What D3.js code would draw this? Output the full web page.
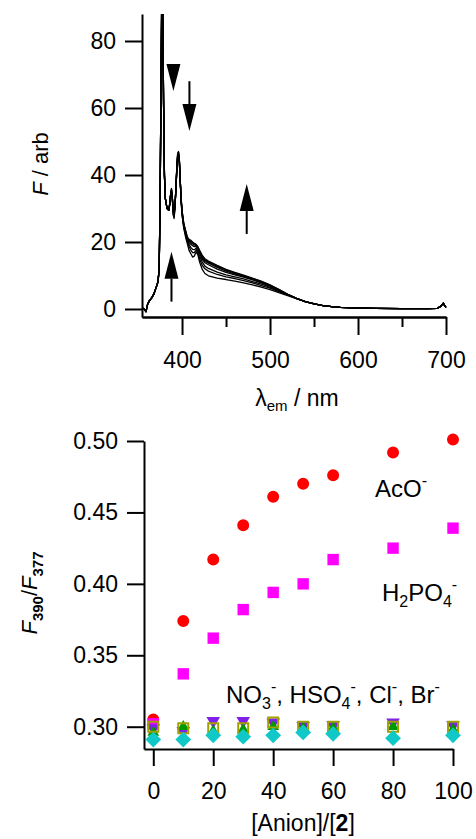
<!DOCTYPE html>
<html>
<head>
<meta charset="utf-8">
<script src="https://cdn.jsdelivr.net/npm/d3@7"></script>
<style>
  body { margin: 0; background: #fff; }
  svg { display: block; }
  text { font-family: "Liberation Sans", Arial, sans-serif; fill: #000; }
</style>
</head>
<body>
<div id="chart"></div>
<script>
// ---- emission spectra (top panel) ----
var waveNm = [355, 357, 359, 361, 363, 366, 368, 370, 372, 373, 374, 375, 376, 377, 378, 379, 380, 381, 383, 385,
    386, 387, 388, 389, 390, 391, 392, 393, 394, 395, 396, 397, 398, 399, 400, 402, 404, 406, 408, 410,
    412, 414, 416, 418, 420, 423, 426, 430, 440, 450, 460, 470, 480, 490, 500, 510, 520, 530, 540, 550,
    560, 570, 580, 600, 620, 650, 680, 690, 694, 697, 699, 700];

// shared rising edge + main peak (355-385 nm) and flat tail (560-700 nm)
var specHead = [0.3, 0.0, -0.8, 1.5, 2.5, 3.5, 4.5, 6.0, 7.5, 9.0, 12, 30, 62, 95, 92, 62, 40, 33, 30, 29.5];
var specTail = [1.0, 0.7, 0.5, 0.3, 0.2, 0.1, 0.1, 0.2, 0.8, 1.7, 0.8, 0.5];

// 386-550 nm part, one array per titration step
var spec0 = [31, 34, 36, 33, 28, 27, 30, 36, 42, 46.5, 47, 44.5, 38, 32, 28, 24, 21.5, 19.5, 17.5, 16.5,
    15.5, 15.8, 17, 16.2, 14, 11.8, 10.6, 9.9, 9.2, 8.8, 8.3, 7.8, 7.2, 6.5, 5.8, 4.9, 4.0, 3.1, 2.2, 1.5];
var spec1 = [31.2, 34, 35.8, 33, 28.3, 27.5, 30.5, 35.8, 41.8, 46.2, 46.8, 44.3, 38, 32.3, 28.3, 24.5, 22.2, 20.2, 18.6, 17.6,
    16.8, 16.8, 17.6, 16.8, 15, 13, 12, 11.3, 10.3, 9.6, 9.1, 8.5, 7.8, 7.0, 6.2, 5.2, 4.2, 3.1, 2.2, 1.5];
var spec2 = [31.3, 34, 35.6, 33, 28.6, 28, 30.7, 35.7, 41.6, 46, 46.6, 44.1, 38, 32.5, 28.6, 24.8, 22.6, 20.6, 19.2, 18.4,
    17.8, 17.7, 18.1, 17.3, 15.8, 14, 12.8, 12.1, 11.0, 10.2, 9.6, 9.0, 8.2, 7.4, 6.5, 5.4, 4.3, 3.2, 2.2, 1.5];
var spec3 = [31.4, 34, 35.4, 33, 28.9, 28.4, 30.8, 35.6, 41.4, 45.7, 46.3, 43.9, 38, 32.7, 28.9, 25.0, 22.9, 20.9, 19.8, 19.3,
    18.9, 18.6, 18.7, 17.9, 16.6, 14.8, 13.8, 13.2, 11.9, 10.9, 10.2, 9.5, 8.7, 7.8, 6.8, 5.6, 4.4, 3.2, 2.2, 1.5];
var spec4 = [31.4, 34, 35.3, 33, 29.1, 28.6, 30.9, 35.6, 41.3, 45.5, 46.1, 43.8, 38, 32.8, 29.1, 25.2, 23.1, 21.1, 20.2, 19.8,
    19.4, 19.1, 19.0, 18.2, 17.0, 15.3, 14.3, 13.7, 12.4, 11.3, 10.5, 9.7, 8.9, 8.0, 7.0, 5.7, 4.4, 3.2, 2.2, 1.5];
var spec5 = [31.5, 34, 35.1, 33, 29.3, 28.8, 31, 35.5, 41.1, 45.2, 45.8, 43.6, 38, 32.9, 29.3, 25.4, 23.3, 21.3, 20.5, 20.2,
    19.7, 19.4, 19.2, 18.4, 17.3, 15.7, 14.7, 14.0, 12.7, 11.6, 10.7, 9.9, 9.1, 8.2, 7.1, 5.8, 4.4, 3.2, 2.2, 1.6];
var spec6 = [31.5, 34, 35, 33, 29.5, 29, 31.1, 35.5, 41, 45, 45.5, 43.5, 38, 33, 29.5, 25.5, 23.5, 21.5, 20.8, 20.5,
    20, 19.6, 19.3, 18.6, 17.5, 16, 15, 14.3, 13.0, 11.8, 10.9, 10.1, 9.2, 8.3, 7.2, 5.9, 4.4, 3.2, 2.2, 1.6];
var specMid = [spec0, spec1, spec2, spec3, spec4, spec5, spec6];

var specTicks = [0, 20, 40, 60, 80];
var waveTicks = [400, 500, 600, 700];
var waveMinor = [450, 550, 650];

// ---- ratio titration (bottom panel) ----
var anionConc = [0, 10, 20, 30, 40, 50, 60, 80, 100];
var acoRatio = [0.305, 0.374, 0.417, 0.441, 0.461, 0.470, 0.476, 0.492, 0.501];
var h2po4Ratio = [0.302, 0.337, 0.362, 0.382, 0.394, 0.400, 0.417, 0.425, 0.439];
var no3Ratio = [0.299, 0.297, 0.304, 0.304, 0.303, 0.3005, 0.301, 0.303, 0.301];
var clRatio = [0.296, 0.300, 0.297, 0.298, 0.300, 0.299, 0.299, 0.300, 0.298];
var hso4Ratio = [0.300, 0.299, 0.299, 0.299, 0.303, 0.300, 0.300, 0.300, 0.300];
var brRatio = [0.291, 0.291, 0.294, 0.293, 0.294, 0.296, 0.295, 0.292, 0.294];

var concTicks = [0, 20, 40, 60, 80, 100];
var ratioTicks = [0.30, 0.35, 0.40, 0.45, 0.50];

var W = 476, H = 839;
var FS = 23;

var svg = d3.select("#chart").append("svg")
    .attr("width", W)
    .attr("height", H);
svg.append("rect").attr("width", W).attr("height", H).attr("fill", "#fff");

function styleAxis(g) {
    g.attr("font-size", FS).attr("font-family", null);
    g.selectAll("path, line").attr("stroke", "#000").attr("stroke-width", 2);
    g.selectAll("text").attr("fill", "#000");
}

// ================= top panel =================
var x1 = d3.scaleLinear().domain([354.5, 700]).range([142, 446]);
var y1 = d3.scaleLinear().domain([-2.39, 88.06]).range([317, 14]);

svg.append("clipPath").attr("id", "clipTop")
    .append("rect").attr("x", 142).attr("y", 14).attr("width", 306).attr("height", 303);

var line1 = d3.line()
    .x(function (d) { return x1(d[0]); })
    .y(function (d) { return y1(d[1]); });

var curves = specMid.map(function (mid) {
    var vals = specHead.concat(mid, specTail);
    return waveNm.map(function (w, i) { return [w, vals[i]]; });
});

svg.append("g").attr("clip-path", "url(#clipTop)")
    .selectAll("path")
    .data(curves)
    .enter().append("path")
    .attr("d", line1)
    .attr("fill", "none")
    .attr("stroke", "#000")
    .attr("stroke-width", 1.3)
    .attr("stroke-linejoin", "round");

// y axis
svg.append("g")
    .attr("transform", "translate(" + x1.range()[0] + ",0)")
    .call(d3.axisLeft(y1).tickValues(specTicks).tickSize(17).tickSizeOuter(0).tickPadding(9))
    .call(styleAxis);

// x axis, major + minor
svg.append("g")
    .attr("transform", "translate(0," + y1.range()[0] + ")")
    .call(d3.axisBottom(x1).tickValues(waveTicks).tickSize(18).tickSizeOuter(0).tickPadding(17))
    .call(styleAxis);
svg.append("g")
    .attr("transform", "translate(0," + y1.range()[0] + ")")
    .call(d3.axisBottom(x1).tickValues(waveMinor).tickSize(10).tickSizeOuter(0).tickFormat(""))
    .call(styleAxis);

// arrows
function arrow(xv, yTail, yTip) {
    var px = x1(xv), pTail = y1(yTail), pTip = y1(yTip);
    var dir = pTip > pTail ? 1 : -1;
    var headLen = 27, half = 7;
    var base = pTip - dir * headLen;
    if (Math.abs(pTip - pTail) > headLen) {
        svg.append("line")
            .attr("x1", px).attr("x2", px)
            .attr("y1", pTail).attr("y2", base)
            .attr("stroke", "#000").attr("stroke-width", 2);
    }
    svg.append("path")
        .attr("d", "M" + px + "," + pTip + "L" + (px - half) + "," + base + "L" + (px + half) + "," + base + "Z")
        .attr("fill", "#000");
}
arrow(390.2, 73.1, 65.1);
arrow(408.4, 68, 53.1);
arrow(473.5, 22.4, 37.3);
arrow(388, 2.2, 17.1);

// axis titles
var yt1 = svg.append("text")
    .attr("transform", "translate(48,164) rotate(-90)")
    .attr("text-anchor", "middle")
    .attr("font-size", 22);
yt1.append("tspan").attr("font-style", "italic").text("F");
yt1.append("tspan").text(" / arb");

var xt1 = svg.append("text")
    .attr("x", 297).attr("y", 406)
    .attr("text-anchor", "middle")
    .attr("font-size", FS);
xt1.append("tspan").text("λ");
xt1.append("tspan").attr("font-size", 15).attr("dy", 5).text("em");
xt1.append("tspan").attr("dy", -5).text(" / nm");

// ================= bottom panel =================
var x2 = d3.scaleLinear().domain([-3.1, 100]).range([144, 453]);
var y2 = d3.scaleLinear().domain([0.2844, 0.50]).range([749, 441]);

svg.append("g")
    .attr("transform", "translate(" + x2.range()[0] + ",0)")
    .call(d3.axisLeft(y2).tickValues(ratioTicks).tickSize(17).tickSizeOuter(0).tickPadding(9)
        .tickFormat(d3.format(".2f")))
    .call(styleAxis);

svg.append("g")
    .attr("transform", "translate(0," + y2.range()[0] + ")")
    .call(d3.axisBottom(x2).tickValues(concTicks).tickSize(17).tickSizeOuter(0).tickPadding(17))
    .call(styleAxis);

var series = [
    { vals: acoRatio, type: d3.symbolCircle, size: 113, fill: "#ff0000", stroke: "none", rot: 0 },
    { vals: h2po4Ratio, type: d3.symbolSquare, size: 130, fill: "#ff00ff", stroke: "none", rot: 0 },
    { vals: no3Ratio, type: d3.symbolTriangle, size: 80, fill: "#8020e8", stroke: "none", rot: 180 },
    { vals: clRatio, type: d3.symbolTriangle, size: 60, fill: "#009900", stroke: "none", rot: 0 },
    { vals: hso4Ratio, type: d3.symbolSquare, size: 100, fill: "none", stroke: "#a0a000", rot: 0 },
    { vals: brRatio, type: d3.symbolSquare, size: 125, fill: "#10c8c8", stroke: "none", rot: 45 }
];

series.forEach(function (s) {
    svg.append("g").selectAll("path")
        .data(s.vals)
        .enter().append("path")
        .attr("d", d3.symbol().type(s.type).size(s.size))
        .attr("transform", function (d, i) {
            return "translate(" + x2(anionConc[i]) + "," + y2(d) + ") rotate(" + s.rot + ")";
        })
        .attr("fill", s.fill)
        .attr("stroke", s.stroke)
        .attr("stroke-width", s.stroke == "none" ? 0 : 2);
});

// series labels
var LS = 24, SS = 16;
var aco = svg.append("text").attr("x", 375).attr("y", 497).attr("font-size", LS);
aco.append("tspan").text("AcO");
aco.append("tspan").attr("font-size", SS).attr("dy", -11).text("-");

var h2po4 = svg.append("text").attr("x", 382).attr("y", 601).attr("font-size", LS);
h2po4.append("tspan").text("H");
h2po4.append("tspan").attr("font-size", SS).attr("dy", 6).text("2");
h2po4.append("tspan").attr("dy", -6).text("PO");
h2po4.append("tspan").attr("font-size", SS).attr("dy", 6).text("4");
h2po4.append("tspan").attr("font-size", SS).attr("dy", -17).text("-");

var others = svg.append("text").attr("x", 226).attr("y", 703).attr("font-size", LS);
others.append("tspan").text("NO");
others.append("tspan").attr("font-size", SS).attr("dy", 6).text("3");
others.append("tspan").attr("font-size", SS).attr("dy", -17).text("-");
others.append("tspan").attr("dy", 11).text(", HSO");
others.append("tspan").attr("font-size", SS).attr("dy", 6).text("4");
others.append("tspan").attr("font-size", SS).attr("dy", -17).text("-");
others.append("tspan").attr("dy", 11).text(", Cl");
others.append("tspan").attr("font-size", SS).attr("dy", -11).text("-");
others.append("tspan").attr("dy", 11).text(", Br");
others.append("tspan").attr("font-size", SS).attr("dy", -11).text("-");

// axis titles
var yt2 = svg.append("text")
    .attr("transform", "translate(37,593) rotate(-90)")
    .attr("text-anchor", "middle")
    .attr("font-size", 22);
yt2.append("tspan").attr("font-style", "italic").text("F");
yt2.append("tspan").attr("font-size", 15).attr("font-weight", "bold").attr("dy", 6).text("390");
yt2.append("tspan").attr("dy", -6).text("/");
yt2.append("tspan").attr("font-style", "italic").text("F");
yt2.append("tspan").attr("font-size", 15).attr("font-weight", "bold").attr("dy", 6).text("377");

var xt2 = svg.append("text")
    .attr("x", 303).attr("y", 831)
    .attr("text-anchor", "middle")
    .attr("font-size", FS);
xt2.append("tspan").text("[Anion]/[");
xt2.append("tspan").attr("font-weight", "bold").text("2");
xt2.append("tspan").text("]");
</script>
</body>
</html>
